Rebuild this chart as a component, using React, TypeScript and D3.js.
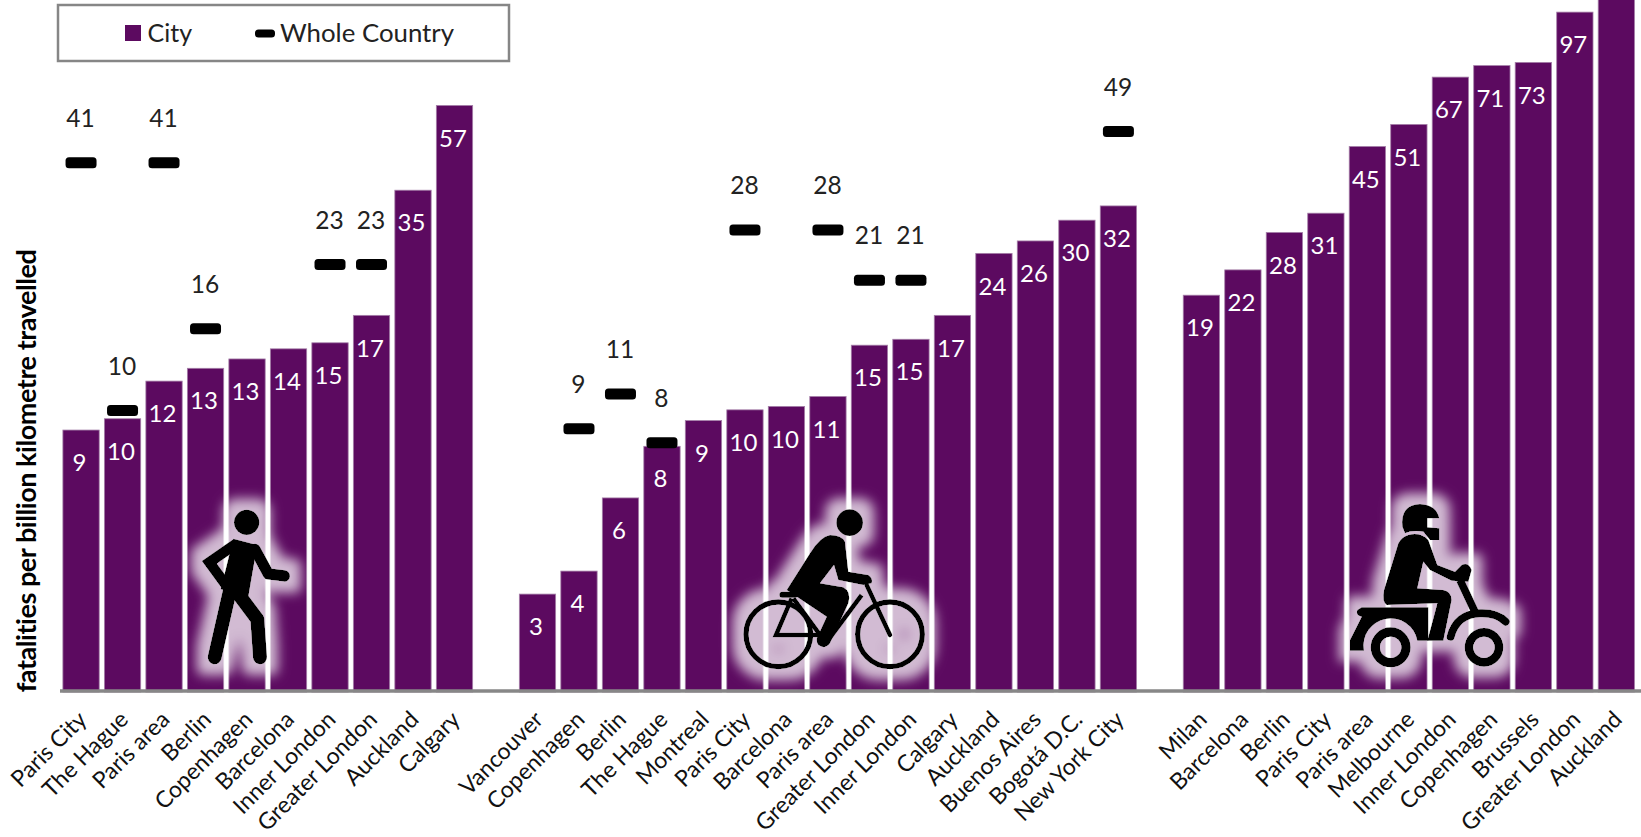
import * as d3 from "d3";

const WIDTH = 1641;
const HEIGHT = 837;
const PURPLE = "#5c0a60";

// walking
const walkCities = ["Paris City", "The Hague", "Paris area", "Berlin", "Copenhagen", "Barcelona", "Inner London", "Greater London", "Auckland", "Calgary"];
const walkValues = [9.1, 9.7, 12.0, 12.9, 13.6, 14.4, 14.9, 17.4, 35.3, 57];
const walkLabels = [9, 10, 12, 13, 13, 14, 15, 17, 35, 57];
const walkCountry = [41.4, 10.2, 41.4, 16.2, null, null, 23.3, 23.3, null, null];
const walkCountryLabels = [41, 10, 41, 16, null, null, 23, 23, null, null];

// cycling
const cycleCities = ["Vancouver", "Copenhagen", "Berlin", "The Hague", "Montreal", "Paris City", "Barcelona", "Paris area", "Greater London", "Inner London", "Calgary", "Auckland", "Buenos Aires", "Bogotá D.C.", "New York City"];
const cycleValues = [3.6, 4.1, 6.2, 8.3, 9.6, 10.2, 10.4, 11.0, 14.7, 15.2, 17.4, 24.7, 26.5, 29.8, 32.3];
const cycleLabels = [3, 4, 6, 8, 9, 10, 10, 11, 15, 15, 17, 24, 26, 30, 32];
const cycleCountry = [null, 9.2, 11.2, 8.5, null, 28.3, null, 28.3, 21.3, 21.3, null, null, null, null, 49.4];
const cycleCountryLabels = [null, 9, 11, 8, null, 28, null, 28, 21, 21, null, null, null, null, 49];

// motorcycling, the Auckland bar runs off the top of the picture
const motoCities = ["Milan", "Barcelona", "Berlin", "Paris City", "Paris area", "Melbourne", "Inner London", "Copenhagen", "Brussels", "Greater London", "Auckland"];
const motoValues = [19.5, 22.5, 27.8, 31, 45.2, 51.2, 66.9, 71.4, 72.7, 96.6, 135];
const motoLabels = [19, 22, 28, 31, 45, 51, 67, 71, 73, 97, null];

type Row = {
  key: string;
  city: string;
  value: number;
  label: number | null;
  country: number | null;
  countryLabel: number | null;
};

function makeRows(
  group: string,
  cities: string[],
  values: number[],
  labels: (number | null)[],
  country: (number | null)[] = [],
  countryLabels: (number | null)[] = [],
): Row[] {
  return cities.map((city, i) => ({
    key: `${group}-${city}`,
    city,
    value: values[i],
    label: labels[i],
    country: country[i] ?? null,
    countryLabel: countryLabels[i] ?? null,
  }));
}

const rows: Row[] = [
  ...makeRows("walk", walkCities, walkValues, walkLabels, walkCountry, walkCountryLabels),
  ...makeRows("cycle", cycleCities, cycleValues, cycleLabels, cycleCountry, cycleCountryLabels),
  ...makeRows("moto", motoCities, motoValues, motoLabels),
];

// one empty band between the groups
const bandDomain = [
  ...walkCities.map((c) => `walk-${c}`),
  "gap-1",
  ...cycleCities.map((c) => `cycle-${c}`),
  "gap-2",
  ...motoCities.map((c) => `moto-${c}`),
];

const x = d3.scaleBand<string>().domain(bandDomain).range([60.4, 1637]).paddingInner(0.125).paddingOuter(0.06);
const y = d3.scaleLog().domain([2.07, 100]).range([692, 6]);

function Walker() {
  return (
    <g transform="translate(180,500) scale(0.3333)">
      <circle cx={200} cy={67} r={38} fill="#000" />
      <path d="M160,116 L232,135 L205,290 L122,268 Z" fill="#000" />
      <path d="M170,130 L88,187 L138,255" fill="none" stroke="#000" strokeWidth={32} />
      <path d="M225,148 L265,222 L313,228" fill="none" stroke="#000" strokeWidth={34} strokeLinecap="round" strokeLinejoin="round" />
      <path d="M150,270 L104,472" fill="none" stroke="#000" strokeWidth={42} strokeLinecap="round" />
      <path d="M172,278 L232,358 L240,472" fill="none" stroke="#000" strokeWidth={42} strokeLinecap="round" strokeLinejoin="round" />
    </g>
  );
}

function Cyclist() {
  return (
    <g transform="translate(730,500) scale(0.3333)">
      <circle cx={359} cy={68} r={40} fill="#000" />
      <path
        d="M300,105 Q335,105 345,125 L355,215 L415,225 Q430,235 425,250 L400,255 L325,240 L312,195 L270,250 L340,262 Q365,275 355,310 L300,430 Q285,450 265,435 Q255,420 265,405 L290,350 L170,270 L240,160 Q270,110 300,105 Z"
        fill="#000"
      />
      <circle cx={145} cy={403} r={97} fill="none" stroke="#000" strokeWidth={16} />
      <circle cx={480} cy={403} r={97} fill="none" stroke="#000" strokeWidth={16} />
      <path d="M185,295 L138,405 L275,405" fill="none" stroke="#000" strokeWidth={14} />
      <path d="M190,295 L270,405" fill="none" stroke="#000" strokeWidth={14} />
      <path d="M410,255 L480,405" fill="none" stroke="#000" strokeWidth={14} strokeLinecap="round" />
      <path d="M395,285 L295,420" fill="none" stroke="#000" strokeWidth={14} />
      <path d="M157,284 L195,284" fill="none" stroke="#000" strokeWidth={18} strokeLinecap="round" />
    </g>
  );
}

function Rider() {
  return (
    <g transform="translate(1340,490) scale(0.3333)">
      <path d="M187,110 Q180,45 240,42 Q290,45 298,85 L262,85 L262,112 L298,115 L298,150 L270,150 L250,125 Q215,120 195,130 Z" fill="#000" />
      <path
        d="M205,135 Q240,125 265,150 L292,225 L345,245 L365,225 Q385,215 395,240 L385,275 L335,272 L270,240 L250,215 L232,295 L310,300 Q335,305 335,330 L310,452 L262,452 L292,340 L140,345 Q125,335 132,300 L175,160 Q185,140 205,135 Z"
        fill="#000"
      />
      <path d="M65,352 L265,352 L265,452 L232,452 A80,80 0 0 0 72,482 L30,482 L30,450 L65,380 Q45,375 52,360 Z" fill="#000" />
      <circle cx={152} cy={472} r={46} fill="none" stroke="#000" strokeWidth={28} />
      <circle cx={432} cy={472} r={45} fill="none" stroke="#000" strokeWidth={26} />
      <path d="M360,270 L408,372" fill="none" stroke="#000" strokeWidth={24} />
      <path d="M332,440 Q350,372 420,370 Q470,368 497,395" fill="none" stroke="#000" strokeWidth={24} strokeLinecap="round" />
    </g>
  );
}

export default function App() {
  const font = "Lato, 'Open Sans', sans-serif";
  const base = y(2.07);
  return (
    <svg
      width={WIDTH}
      height={HEIGHT}
      viewBox={`0 0 ${WIDTH} ${HEIGHT}`}
      style={{ position: "absolute", left: 0, top: 0, background: "#fff" }}
      fontFamily={font}
    >
      <defs>
        <filter id="glow" x="-30%" y="-30%" width="160%" height="160%">
          <feMorphology in="SourceAlpha" operator="dilate" radius={11} result="fat" />
          <feGaussianBlur in="fat" stdDeviation={6} result="soft" />
          <feFlood floodColor="#fff" floodOpacity={0.72} />
          <feComposite in2="soft" operator="in" result="halo" />
          <feMerge>
            <feMergeNode in="halo" />
            <feMergeNode in="SourceGraphic" />
          </feMerge>
        </filter>
      </defs>

      {/* bars */}
      {rows.map((d) => (
        <rect
          key={d.key}
          x={x(d.key)}
          y={y(d.value)}
          width={x.bandwidth()}
          height={base - y(d.value)}
          fill={PURPLE}
          stroke="#a57fa8"
          strokeWidth={0.8}
        />
      ))}

      <line x1={60} x2={WIDTH} y1={691} y2={691} stroke="#878787" strokeWidth={3.5} />

      {/* value labels inside the bars */}
      {rows.map((d) =>
        d.label === null ? null : (
          <text
            key={d.key}
            x={x(d.key)! + x.bandwidth() / 2 - 1.5}
            y={y(d.value) + 32.5}
            dy="0.36em"
            textAnchor="middle"
            fontSize={24}
            fill="#fff"
          >
            {d.label}
          </text>
        ),
      )}

      {/* whole country markers */}
      {rows
        .filter((d) => d.country !== null)
        .map((d) => {
          const cx = x(d.key)! + x.bandwidth() / 2;
          const cy = y(d.country!);
          return (
            <g key={d.key}>
              <rect x={cx - 15.5} y={cy - 4.8} width={31} height={11} rx={3.5} fill="#000" />
              <text x={cx - 0.5} y={cy - 44} dy="0.36em" textAnchor="middle" fontSize={24.5} fill="#222">
                {d.countryLabel}
              </text>
            </g>
          );
        })}

      {/* city names */}
      {rows.map((d) => {
        const cx = x(d.key)! + x.bandwidth() / 2;
        return (
          <text key={d.key} transform={`translate(${cx + 7},721) rotate(-45)`} textAnchor="end" fontSize={23} fill="#111">
            {d.city}
          </text>
        );
      })}

      <text
        transform="translate(36,471) rotate(-90)"
        textAnchor="middle"
        fontSize={27}
        fontWeight={700}
        letterSpacing={-0.45}
        fill="#000"
      >
        fatalities per billion kilometre travelled
      </text>

      {/* legend */}
      <rect x={58} y={5} width={451} height={56} fill="#fff" stroke="#868686" strokeWidth={2.5} />
      <rect x={125} y={25} width={16} height={16} fill={PURPLE} />
      <text x={147.5} y={42} fontSize={25} fill="#222">
        City
      </text>
      <rect x={255} y={29.5} width={20} height={8} rx={3.5} fill="#000" />
      <text x={280} y={42} fontSize={25.8} fill="#222">
        Whole Country
      </text>

      {/* mode icons */}
      <g filter="url(#glow)">
        <Walker />
      </g>
      <g filter="url(#glow)">
        <Cyclist />
      </g>
      <g filter="url(#glow)">
        <Rider />
      </g>
    </svg>
  );
}
